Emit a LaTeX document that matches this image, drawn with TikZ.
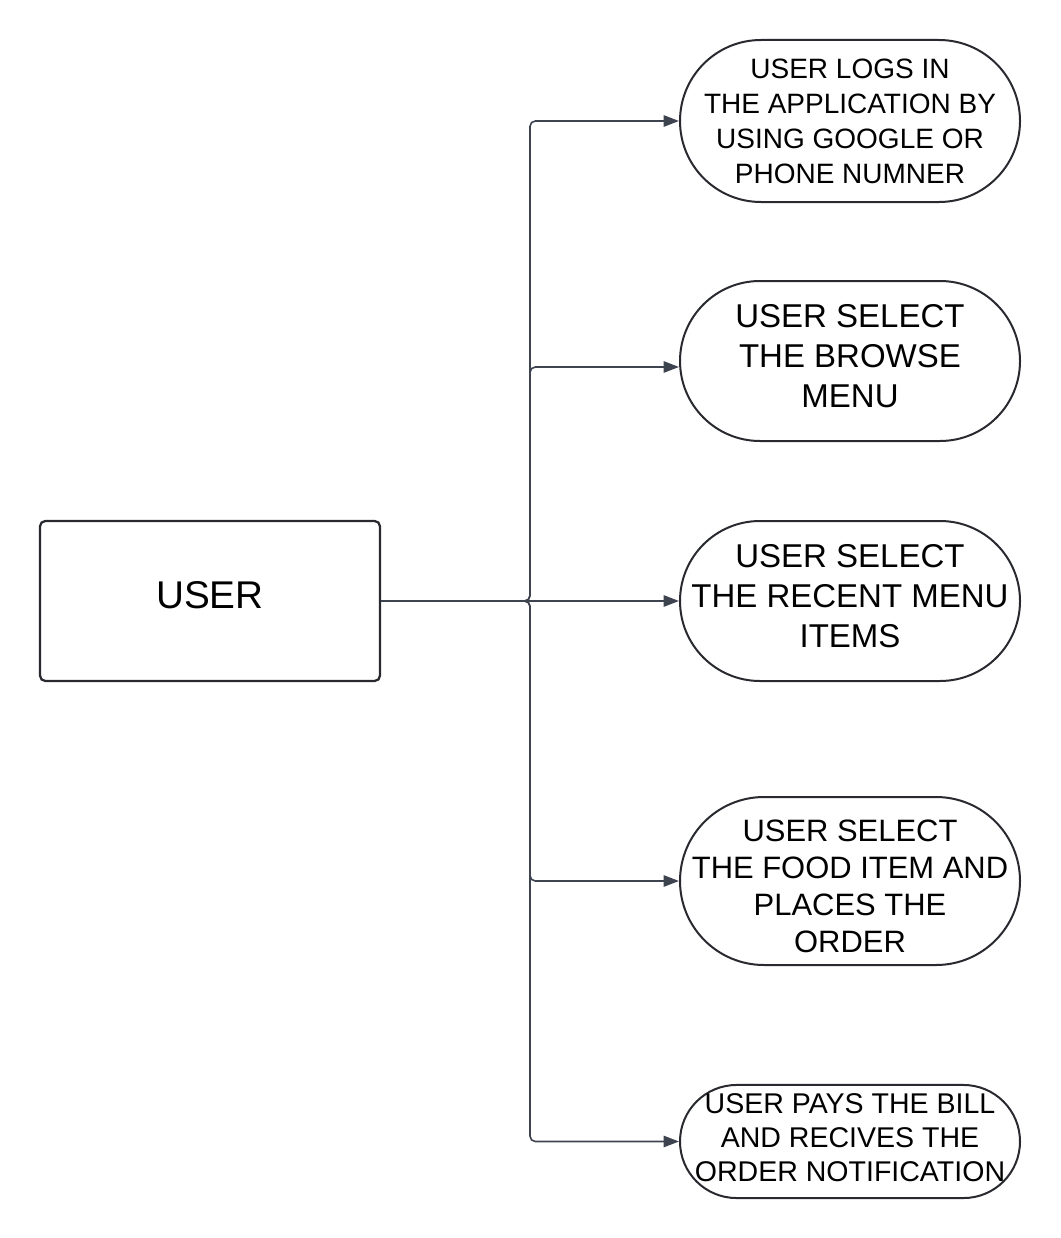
\documentclass[tikz,border=0pt]{standalone}
\usepackage{fontspec}
\setmainfont{Liberation Sans}
\usetikzlibrary{arrows.meta}
\definecolor{boxline}{RGB}{40,42,48}
\definecolor{linkline}{RGB}{62,67,80}

\begin{document}
\begin{tikzpicture}[x=0.75pt,y=-0.75pt,
    userbox/.style={draw=boxline, line width=1.7pt, rounded corners=4pt,
        minimum width=255pt, minimum height=120pt, inner sep=0pt,
        font={\fontsize{29}{34}\selectfont}},
    stepnode/.style={draw=boxline, line width=1.5pt, rounded corners=#1,
        minimum width=255pt, minimum height=2*#1, inner sep=0pt, align=center},
    link/.style={draw=linkline, line width=1.2pt, rounded corners=4pt,
        -{Triangle[length=11.5pt,width=8.5pt]}}]

    % frame
    \useasboundingbox (0,0) rectangle (1060,1238);

    % constants
    \def\xsteps{850}

    % user
    \node[userbox] (user) at (210,601) {\raisebox{9pt}{USER}};

    % steps
    \node[stepnode=60.75pt, font={\fontsize{21}{26.25}\selectfont}] (login) at (\xsteps,121)
        {USER LOGS IN\\THE APPLICATION BY\\USING GOOGLE OR\\PHONE NUMNER};
    \node[stepnode=60pt, text depth=7.5pt, font={\fontsize{24.75}{30}\selectfont}] (browse) at (\xsteps,361)
        {USER SELECT\\THE BROWSE\\MENU};
    \node[stepnode=60pt, text depth=7.5pt, font={\fontsize{24.75}{30}\selectfont}] (recent) at (\xsteps,601)
        {USER SELECT\\THE RECENT MENU\\ITEMS};
    \node[stepnode=63pt, font={\fontsize{23.2}{27.75}\selectfont}] (order) at (\xsteps,881)
        {\rule{0pt}{24.8pt}USER SELECT\\THE FOOD ITEM AND\\PLACES THE\\ORDER};
    \node[stepnode=42.4pt, text depth=6.5pt, font={\fontsize{21.4}{25.5}\selectfont}] (bill) at (\xsteps,1141.5)
        {USER PAYS THE BILL\\AND RECIVES THE\\ORDER NOTIFICATION};

    % connectors
    \coordinate (fork) at (530,601);
    \draw[link] (user.east) -- (fork) |- (login.west);
    \draw[link] (user.east) -- (fork) |- ([yshift=-4.5pt]browse.west);
    \draw[link] (user.east) -- (recent.west);
    \draw[link] (user.east) -- (fork) |- (order.west);
    \draw[link] (user.east) -- (fork) |- (bill.west);

\end{tikzpicture}
\end{document}
